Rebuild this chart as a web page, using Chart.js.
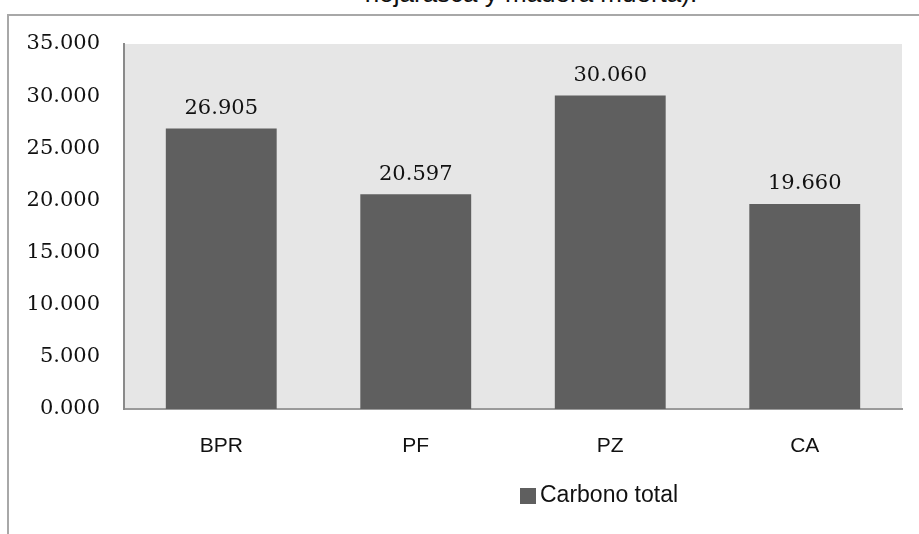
<!DOCTYPE html>
<html>
<head>
<meta charset="utf-8">
<script src="https://cdn.jsdelivr.net/npm/chart.js@4.4.0/dist/chart.umd.min.js"></script>
<style>
  html, body { margin: 0; padding: 0; background: #fff; overflow: hidden; }
  #wrap { position: relative; width: 919px; height: 534px; }
  #title { position: absolute; left: 0; width: 1062px; top: -22px; text-align: center;
           font: 26px "Liberation Sans", Arial, sans-serif; color: #111; white-space: nowrap; }
  #frame { position: absolute; left: 7px; top: 14px; width: 930px; height: 540px;
           border-left: 2px solid #a8a8a8; border-top: 2px solid #a8a8a8; }
  canvas { position: absolute; left: 0; top: 0; }
</style>
</head>
<body>
<div id="wrap">
  <div id="title">hojarasca y madera muerta).</div>
  <div id="frame"></div>
  <canvas id="chart" width="919" height="534"></canvas>
</div>
<script>
const categories = ['BPR', 'PF', 'PZ', 'CA'];
const carbonoTotal = [26.905, 20.597, 30.060, 19.660];
const seriesName = 'Carbono total';
const yTicks = [0, 5, 10, 15, 20, 25, 30, 35];

const barColor = '#5f5f5f';
const numFont = '"DejaVu Serif", serif';
const textFont = '"Liberation Sans", Arial, sans-serif';

// gray plot background
const plotBg = {
    id: 'plotBg',
    beforeDraw(chart) {
        const { ctx, chartArea: a } = chart;
        ctx.save();
        ctx.fillStyle = '#e6e6e6';
        ctx.fillRect(a.left, a.top, a.right - a.left, a.bottom - a.top);
        ctx.restore();
    }
};

// value labels above the bars
const valueLabels = {
    id: 'valueLabels',
    afterDatasetsDraw(chart) {
        const ctx = chart.ctx;
        const meta = chart.getDatasetMeta(0);
        ctx.save();
        ctx.font = '21px ' + numFont;
        ctx.fillStyle = '#111';
        ctx.textAlign = 'center';
        ctx.textBaseline = 'middle';
        meta.data.forEach((bar, i) => {
            ctx.fillText(carbonoTotal[i].toFixed(3), bar.x, bar.y - 20);
        });
        ctx.restore();
    }
};

// legend under the axis labels
const legendBox = {
    id: 'legendBox',
    afterDraw(chart) {
        const ctx = chart.ctx;
        ctx.save();
        ctx.fillStyle = barColor;
        ctx.fillRect(520, 488, 16, 16);
        ctx.font = '23px ' + textFont;
        ctx.fillStyle = '#111';
        ctx.textAlign = 'left';
        ctx.textBaseline = 'middle';
        ctx.fillText(seriesName, 540, 496);
        ctx.restore();
    }
};

new Chart(document.getElementById('chart'), {
    type: 'bar',
    data: {
        labels: categories,
        datasets: [{
            label: seriesName,
            data: carbonoTotal,
            backgroundColor: barColor,
            barPercentage: 0.57,
            categoryPercentage: 1.0
        }]
    },
    options: {
        responsive: false,
        animation: false,
        layout: { padding: { top: 44, right: 17, left: 0, bottom: 0 } },
        plugins: { legend: { display: false }, tooltip: { enabled: false } },
        scales: {
            x: {
                grid: { display: false, drawTicks: false },
                border: { display: true, color: '#9a9a9a', width: 2 },
                ticks: { color: '#111', font: { family: textFont, size: 21 }, padding: 25 },
                afterFit: s => { s.height = 125; }
            },
            y: {
                min: 0,
                max: 35,
                afterBuildTicks: s => { s.ticks = yTicks.map(v => ({ value: v })); },
                grid: { display: false, drawTicks: false },
                border: { display: true, color: '#8a8a8a', width: 2 },
                ticks: {
                    color: '#111',
                    font: { family: numFont, size: 21 },
                    padding: 24,
                    callback: v => v.toFixed(3)
                },
                afterFit: s => { s.width = 124; }
            }
        }
    },
    plugins: [plotBg, valueLabels, legendBox]
});
</script>
</body>
</html>
